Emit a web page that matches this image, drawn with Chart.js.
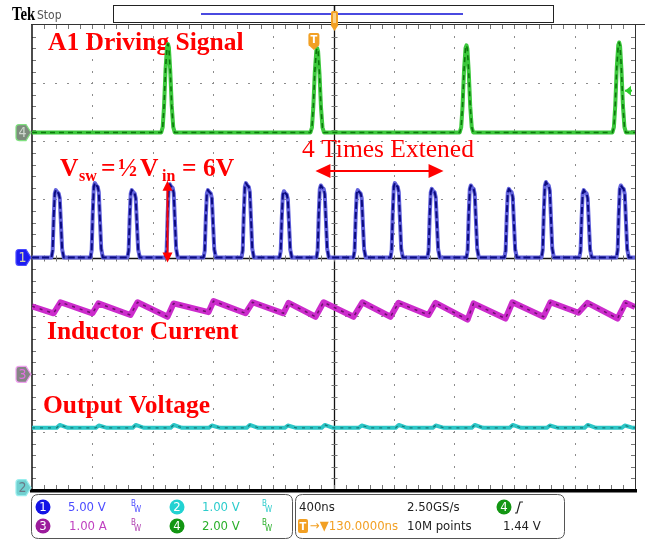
<!DOCTYPE html>
<html><head><meta charset="utf-8">
<script src="https://cdn.jsdelivr.net/npm/chart.js@4.4.1/dist/chart.umd.min.js"></script>
<style>html,body{margin:0;padding:0;background:#fff;}canvas{display:block;}</style>
</head><body>
<canvas id="c" width="645" height="540"></canvas>
<script>
// ---------- scope settings ----------
const nsPerDiv = 400;          // 400 ns/div
const timeCenterNs = 130;      // horizontal delay 130 ns
const xDivs = 10, yDivs = 8;
const ch1VoltsPerDiv = 5, ch1GroundDiv = 4.0;
const ch2VoltsPerDiv = 1, ch2GroundDiv = 0.04;
const ch3AmpsPerDiv = 1,  ch3GroundDiv = 1.99;
const ch4VoltsPerDiv = 2, ch4GroundDiv = 6.15;
const triggerLevelV = 1.44;

// ---------- CH4 : A1 driving signal (ns, V) ----------
const ch4PulseT = [-968, 22, 1012, 2025];
const ch4PulseV = [3.05, 2.9, 3.0, 3.1];
const ch4ShapeDt = [-45, -35, -26, -16, -6, 0, 6, 15, 25, 35, 45];
const ch4ShapeFrac = [0, 0.06, 0.3, 0.72, 0.97, 1, 0.96, 0.7, 0.3, 0.06, 0];

// ---------- CH1 : switch node (ns, V) ----------
const ch1PulseT = [-1701, -1442, -1197, -945, -692, -440, -188, 57, 302, 548, 793, 1052, 1304, 1550, 1801, 2047];
const ch1PulseV = [5.8, 6.4, 5.8, 6.3, 5.8, 6.4, 5.7, 6.2, 5.8, 6.4, 5.9, 6.2, 5.9, 6.5, 5.8, 6.2];
const ch1ShapeDt = [-40, -32, -25, -18, -11, -2, 8, 15, 23, 31, 42];
const ch1ShapeFrac = [0, 0.1, 0.6, 0.95, 1.0, 0.97, 0.95, 0.88, 0.5, 0.12, 0];

// ---------- CH3 : inductor current (ns, A) ----------
const ch3T = [-1870, -1727, -1681, -1469, -1429, -1217, -1170, -971, -931, -699, -666, -454, -407, -202, -168, 11, 64, 263, 322, 508, 561, 760, 807, 1019, 1059, 1271, 1317, 1523, 1569, 1755, 1815, 2014, 2067, 2130];
const ch3A = [1.17, 1.05, 1.24, 1.05, 1.22, 1.02, 1.24, 0.99, 1.22, 1.07, 1.26, 1.05, 1.24, 1.05, 1.23, 0.99, 1.24, 0.99, 1.24, 0.99, 1.23, 1.02, 1.23, 0.94, 1.22, 0.96, 1.24, 0.99, 1.24, 1.06, 1.23, 0.96, 1.23, 1.16];

// ---------- CH2 : output voltage (V) ----------
const ch2BaseV = 1.03;
const ch2BumpV = [1.08, 1.07, 1.08, 1.08, 1.07, 1.08, 1.07, 1.08, 1.07, 1.08, 1.07, 1.08, 1.08, 1.07, 1.08, 1.07];
const ch2ShapeDt = [-5, 15, 70];
const ch2ShapeFrac = [0, 1, 0];

// ---------- build point tables ----------
const tMin = timeCenterNs - nsPerDiv * xDivs / 2;
const tMax = timeCenterNs + nsPerDiv * xDivs / 2;
function pulseTrain(times, peaks, dts, fracs, base) {
  const pts = [{x: tMin, y: base}];
  times.forEach((t, i) => {
    dts.forEach((d, k) => pts.push({x: t + d, y: base + fracs[k] * (peaks[i] - base)}));
  });
  pts.push({x: tMax, y: base});
  return pts;
}
const ch4Pts = pulseTrain(ch4PulseT, ch4PulseV, ch4ShapeDt, ch4ShapeFrac, 0);
const ch1Pts = pulseTrain(ch1PulseT, ch1PulseV, ch1ShapeDt, ch1ShapeFrac, 0);
const ch2Pts = pulseTrain(ch1PulseT, ch2BumpV, ch2ShapeDt, ch2ShapeFrac, ch2BaseV);
const ch3Pts = ch3T.map((t, i) => ({x: t, y: ch3A[i]}));

function layer(pts, axis, color, width, dash, order) {
  return {data: pts, yAxisID: axis, borderColor: color, borderWidth: width,
    borderDash: dash, pointRadius: 0, fill: false, tension: 0, order: order,
    borderJoinStyle: 'round', borderCapStyle: 'butt'};
}
function axisRange(perDiv, groundDiv) {
  return {display: false, min: -groundDiv * perDiv, max: (yDivs - groundDiv) * perDiv};
}

const serif = '"Liberation Serif", "Times New Roman", serif';
const narrow = '"Liberation Sans Narrow", "DejaVu Sans Condensed", "Liberation Sans", sans-serif';

function rrect(ctx, x, y, w, h, r) {
  ctx.beginPath();
  ctx.moveTo(x + r, y); ctx.lineTo(x + w - r, y); ctx.quadraticCurveTo(x + w, y, x + w, y + r);
  ctx.lineTo(x + w, y + h - r); ctx.quadraticCurveTo(x + w, y + h, x + w - r, y + h);
  ctx.lineTo(x + r, y + h); ctx.quadraticCurveTo(x, y + h, x, y + h - r);
  ctx.lineTo(x, y + r); ctx.quadraticCurveTo(x, y, x + r, y); ctx.closePath();
}
function chMarker(ctx, xr, yc, fill, stroke, txt, tcol) {
  const w = 15, h = 16, tip = 5, l = xr - w;
  ctx.beginPath();
  ctx.moveTo(l + 3, yc - h / 2); ctx.lineTo(xr - tip, yc - h / 2); ctx.lineTo(xr, yc);
  ctx.lineTo(xr - tip, yc + h / 2); ctx.lineTo(l + 3, yc + h / 2);
  ctx.quadraticCurveTo(l, yc + h / 2, l, yc + h / 2 - 3); ctx.lineTo(l, yc - h / 2 + 3);
  ctx.quadraticCurveTo(l, yc - h / 2, l + 3, yc - h / 2); ctx.closePath();
  ctx.fillStyle = fill; ctx.fill();
  ctx.lineWidth = 1.2; ctx.strokeStyle = stroke; ctx.stroke();
  ctx.fillStyle = tcol; ctx.font = '14px ' + narrow; ctx.textAlign = 'center'; ctx.textBaseline = 'middle';
  ctx.fillText(txt, l + (w - tip) / 2 + 1.5, yc + 1);
}
function arrowHead(ctx, x, y, ang, len, half) {
  ctx.save(); ctx.translate(x, y); ctx.rotate(ang);
  ctx.beginPath(); ctx.moveTo(0, 0); ctx.lineTo(-len, -half); ctx.lineTo(-len, half); ctx.closePath();
  ctx.fill(); ctx.restore();
}
function circ(ctx, x, y, fill, txt) {
  ctx.beginPath(); ctx.arc(x, y, 7.5, 0, Math.PI * 2); ctx.fillStyle = fill; ctx.fill();
  ctx.fillStyle = '#fff'; ctx.font = '13px ' + narrow; ctx.textAlign = 'center'; ctx.textBaseline = 'middle';
  ctx.fillText(txt, x, y + 1);
}
function bw(ctx, x, y, col) {
  ctx.fillStyle = col; ctx.font = '8px ' + narrow; ctx.textAlign = 'left'; ctx.textBaseline = 'alphabetic';
  ctx.fillText('B', x, y - 1); ctx.fillText('W', x + 3, y + 5);
}

const deco = {
  id: 'scopeDeco',
  beforeDraw(chart) {
    const c = chart.ctx; c.save(); c.fillStyle = '#fff'; c.fillRect(0, 0, chart.width, chart.height); c.restore();
  },
  beforeDatasetsDraw(chart) {
    const ctx = chart.ctx, a = chart.chartArea;
    const dx = (a.right - a.left) / xDivs, dy = (a.bottom - a.top) / yDivs;
    ctx.save();
    // dotted graticule
    ctx.fillStyle = '#8c8c8c';
    for (let i = 1; i < xDivs; i++) {
      if (i === xDivs / 2) continue;
      const x = Math.round(a.left + i * dx);
      for (let j = 1; j < yDivs * 5; j++) ctx.fillRect(x, Math.round(a.top + j * dy / 5) - 1, 1, 2);
    }
    for (let j = 1; j < yDivs; j++) {
      if (j === yDivs / 2) continue;
      const y = Math.round(a.top + j * dy);
      for (let i = 1; i < xDivs * 5; i++) ctx.fillRect(Math.round(a.left + i * dx / 5) - 1, y, 2, 1);
    }
    // center crosshair
    const cx = Math.round(a.left + 5 * dx) + 0.5, cy = Math.round(a.top + 4 * dy) + 0.5;
    ctx.strokeStyle = '#111'; ctx.lineWidth = 1.3;
    ctx.beginPath(); ctx.moveTo(cx, a.top); ctx.lineTo(cx, a.bottom); ctx.moveTo(a.left, cy); ctx.lineTo(a.right, cy); ctx.stroke();
    ctx.strokeStyle = '#777'; ctx.lineWidth = 1;
    ctx.beginPath();
    for (let j = 1; j < yDivs * 5; j++) { const y = Math.round(a.top + j * dy / 5) + 0.5; ctx.moveTo(cx - 3, y); ctx.lineTo(cx + 3, y); }
    for (let i = 1; i < xDivs * 5; i++) { const x = Math.round(a.left + i * dx / 5) + 0.5; ctx.moveTo(x, cy - 3); ctx.lineTo(x, cy + 3); }
    // edge ticks
    for (let j = 1; j < yDivs * 5; j++) { const y = Math.round(a.top + j * dy / 5) + 0.5; ctx.moveTo(a.left, y); ctx.lineTo(a.left + 4, y); ctx.moveTo(a.right - 4, y); ctx.lineTo(a.right, y); }
    for (let i = 1; i < xDivs * 5; i++) { const x = Math.round(a.left + i * dx / 5) + 0.5; ctx.moveTo(x, a.top); ctx.lineTo(x, a.top + 4); ctx.moveTo(x, a.bottom - 5); ctx.lineTo(x, a.bottom); }
    ctx.stroke();
    // borders
    ctx.strokeStyle = '#111'; ctx.lineWidth = 1.5;
    ctx.beginPath(); ctx.moveTo(a.left, a.top); ctx.lineTo(a.left, a.bottom); ctx.stroke();
    ctx.lineWidth = 1; ctx.strokeStyle = '#333';
    ctx.beginPath(); ctx.moveTo(a.right + 0.5, a.top); ctx.lineTo(a.right + 0.5, a.bottom); ctx.stroke();
    ctx.beginPath(); ctx.moveTo(a.left - 1, a.top - 0.5); ctx.lineTo(chart.width, a.top - 0.5); ctx.stroke();
    ctx.fillStyle = '#000'; ctx.fillRect(a.left - 2, a.bottom - 1, a.right - a.left + 4, 3.5);

    // red annotations (text)
    ctx.fillStyle = '#ff0000'; ctx.textAlign = 'left'; ctx.textBaseline = 'alphabetic';
    ctx.font = 'bold 25.5px ' + serif;
    ctx.fillText('A1 Driving Signal', 48, 50);
    ctx.fillText('Inductor Current', 47, 339);
    ctx.fillText('Output Voltage', 43, 413);
    ctx.font = '25.5px ' + serif;
    ctx.fillText('4 Times Extened', 302, 157);
    const big = 'bold 25.5px ' + serif, sub = 'bold 16px ' + serif;
    const yb = 176;
    ctx.font = big; ctx.fillText('V', 60, yb);
    ctx.font = sub; ctx.fillText('sw', 79, yb + 5);
    ctx.font = big; ctx.fillText('=', 101, yb); ctx.fillText('\u00BD', 118, yb); ctx.fillText('V', 140, yb);
    ctx.font = sub; ctx.fillText('in', 162, yb + 5);
    ctx.font = big; ctx.fillText('=', 182, yb); ctx.fillText('6V', 203, yb);
    ctx.restore();
  },
  afterDatasetsDraw(chart) {
    const ctx = chart.ctx, a = chart.chartArea, s = chart.scales;
    ctx.save();
    // red arrows
    ctx.fillStyle = '#ff0000'; ctx.strokeStyle = '#ff0000'; ctx.lineWidth = 2;
    const ax = Math.round(s.x.getPixelForValue(-972)) + 0.5;
    const aTop = s.y1.getPixelForValue(6) - 7, aBot = s.y1.getPixelForValue(0) + 5;
    ctx.beginPath(); ctx.moveTo(ax, aTop + 6); ctx.lineTo(ax, aBot - 6); ctx.stroke();
    arrowHead(ctx, ax, aTop, -Math.PI / 2, 10, 5); arrowHead(ctx, ax, aBot, Math.PI / 2, 10, 5);
    const hx1 = s.x.getPixelForValue(10), hx2 = s.x.getPixelForValue(860), hy = 171;
    ctx.beginPath(); ctx.moveTo(hx1 + 10, hy); ctx.lineTo(hx2 - 10, hy); ctx.stroke();
    arrowHead(ctx, hx1, hy, Math.PI, 15, 7); arrowHead(ctx, hx2, hy, 0, 15, 7);

    // channel ground markers
    chMarker(ctx, 31, s.y4.getPixelForValue(0), '#7d8c7d', '#7fe07f', '4', '#cfd8cf');
    chMarker(ctx, 31, s.y1.getPixelForValue(0), '#1c1cf0', '#4a4aff', '1', '#d6d6a8');
    chMarker(ctx, 31, s.y3.getPixelForValue(0), '#858585', '#f0a0f0', '3', '#e070e0');
    chMarker(ctx, 31, s.y2.getPixelForValue(0), '#70d0d0', '#9ee', '2', '#6a7a88');

    // trigger level arrow (right)
    const ty = s.y4.getPixelForValue(triggerLevelV);
    ctx.fillStyle = '#2ccc2c'; ctx.strokeStyle = '#2ccc2c'; ctx.lineWidth = 2;
    arrowHead(ctx, a.right - 10, ty, Math.PI, 6, 5);
    ctx.beginPath(); ctx.moveTo(a.right - 10, ty); ctx.lineTo(a.right - 3, ty); ctx.stroke();

    // trigger point "T"
    const tx = s.x.getPixelForValue(0);
    ctx.fillStyle = '#f2a024';
    rrect(ctx, tx - 5.5, 33, 11, 13, 2); ctx.fill();
    ctx.beginPath(); ctx.moveTo(tx - 5.5, 45); ctx.lineTo(tx + 5.5, 45); ctx.lineTo(tx, 50); ctx.closePath(); ctx.fill();
    ctx.fillStyle = '#fff'; ctx.font = 'bold 11px ' + narrow; ctx.textAlign = 'center'; ctx.textBaseline = 'middle';
    ctx.fillText('T', tx, 40);

    // top bar
    ctx.fillStyle = '#fff'; ctx.fillRect(112, 4, 442, 19);
    ctx.strokeStyle = '#222'; ctx.lineWidth = 1; ctx.strokeRect(113.5, 5.5, 440, 17);
    ctx.strokeStyle = '#4a4ae0'; ctx.lineWidth = 2;
    ctx.beginPath(); ctx.moveTo(201, 14); ctx.lineTo(463, 14); ctx.stroke();
    const mx = Math.round(s.x.getPixelForValue(timeCenterNs)) + 0.5;
    ctx.strokeStyle = '#111'; ctx.lineWidth = 1.5;
    ctx.beginPath(); ctx.moveTo(mx, 5); ctx.lineTo(mx, 12); ctx.stroke();
    ctx.fillStyle = '#f2a024'; rrect(ctx, mx - 3.5, 11, 7, 15, 2); ctx.fill();
    ctx.fillStyle = '#f8d08a'; ctx.fillRect(mx - 1.5, 13, 3, 10);
    ctx.fillStyle = '#f2a024';
    ctx.beginPath(); ctx.moveTo(mx - 4, 25); ctx.lineTo(mx + 4, 25); ctx.lineTo(mx, 31); ctx.closePath(); ctx.fill();
    ctx.textAlign = 'left'; ctx.textBaseline = 'alphabetic';
    ctx.save(); ctx.translate(12, 20); ctx.scale(0.82, 1);
    ctx.fillStyle = '#000'; ctx.font = 'bold 18px ' + serif; ctx.fillText('Tek', 0, 0);
    ctx.restore();
    ctx.fillStyle = '#555'; ctx.font = '12px ' + narrow; ctx.fillText('Stop', 37, 19);

    // bottom info panels
    ctx.strokeStyle = '#555'; ctx.lineWidth = 1;
    rrect(ctx, 31.5, 494.5, 261, 44, 7); ctx.stroke();
    rrect(ctx, 295.5, 494.5, 269, 44, 7); ctx.stroke();
    const r1 = 507, r2 = 526;
    circ(ctx, 43, r1, '#1414e6', '1');
    circ(ctx, 177, r1, '#22d2d2', '2');
    circ(ctx, 43, r2, '#9c1c9c', '3');
    circ(ctx, 177, r2, '#139613', '4');
    circ(ctx, 504, r1, '#139613', '4');
    ctx.textAlign = 'left'; ctx.textBaseline = 'middle'; ctx.font = '13px ' + narrow;
    ctx.fillStyle = '#4b4bff'; ctx.fillText('5.00 V', 68, r1 + 1);
    ctx.fillStyle = '#2ccccc'; ctx.fillText('1.00 V', 202, r1 + 1);
    ctx.fillStyle = '#c040c0'; ctx.fillText('1.00 A', 69, r2 + 1);
    ctx.fillStyle = '#2ab02a'; ctx.fillText('2.00 V', 202, r2 + 1);
    ctx.fillStyle = '#222';
    ctx.fillText('400ns', 299, r1 + 1);
    ctx.fillText('2.50GS/s', 407, r1 + 1);
    ctx.fillText('10M points', 407, r2 + 1);
    ctx.fillText('1.44 V', 503, r2 + 1);
    ctx.fillStyle = '#f2a024'; ctx.fillText('\u2192\u25BC130.0000ns', 310, r2 + 1);
    rrect(ctx, 298, r2 - 7, 10, 14, 2); ctx.fill();
    ctx.fillStyle = '#fff'; ctx.font = 'bold 11px ' + narrow; ctx.textAlign = 'center'; ctx.fillText('T', 303, r2 + 1);
    bw(ctx, 131, r1, '#4b4bff'); bw(ctx, 262, r1, '#2ccccc');
    bw(ctx, 131, r2, '#b040b0'); bw(ctx, 262, r2, '#2ab02a');
    // rising-edge symbol
    ctx.strokeStyle = '#222'; ctx.lineWidth = 1.2;
    ctx.beginPath(); ctx.moveTo(515, r1 + 6); ctx.lineTo(517, r1 + 6); ctx.lineTo(520, r1 - 5); ctx.lineTo(523, r1 - 5); ctx.stroke();
    ctx.restore();
  }
};

new Chart(document.getElementById('c'), {
  type: 'line',
  data: {
    datasets: [
      layer(ch4Pts, 'y4', '#3cc83c', 4, [], 2),
      layer(ch4Pts, 'y4', '#0c780c', 1.6, [5, 4], 1),
      layer(ch1Pts, 'y1', '#6262dc', 4, [], 2),
      layer(ch1Pts, 'y1', '#0b0b80', 2, [7, 3], 1),
      layer(ch3Pts, 'y3', '#cc2ccc', 6, [], 2),
      layer(ch3Pts, 'y3', '#6e106e', 1.5, [3, 5], 1),
      layer(ch2Pts, 'y2', '#2cc6c6', 4, [], 2),
      layer(ch2Pts, 'y2', '#147a7a', 1.2, [3, 5], 1)
    ]
  },
  options: {
    responsive: false, animation: false, events: [],
    layout: {padding: {left: 32, top: 25, right: 10, bottom: 50}},
    plugins: {legend: {display: false}, tooltip: {enabled: false}},
    scales: {
      x: {type: 'linear', display: false, min: tMin, max: tMax},
      y1: axisRange(ch1VoltsPerDiv, ch1GroundDiv),
      y2: axisRange(ch2VoltsPerDiv, ch2GroundDiv),
      y3: axisRange(ch3AmpsPerDiv, ch3GroundDiv),
      y4: axisRange(ch4VoltsPerDiv, ch4GroundDiv)
    }
  },
  plugins: [deco]
});
</script>
</body></html>
